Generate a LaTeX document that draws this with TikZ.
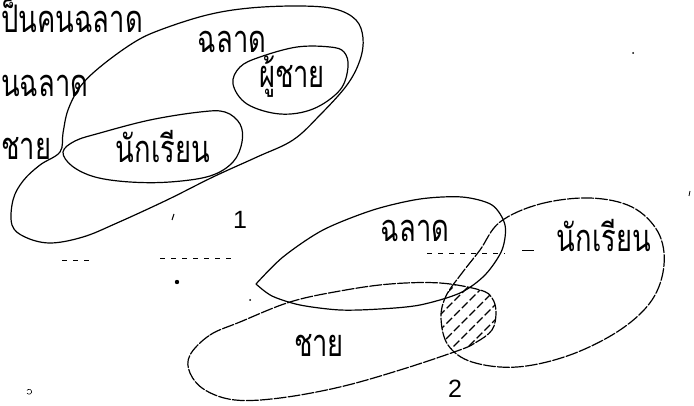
\documentclass[tikz,border=0pt]{standalone}
\usepackage{fontspec}
\setmainfont{Liberation Sans}
\newfontfamily\thai[Script=Thai,FakeStretch=0.72]{Loma}
\begin{document}
\begin{tikzpicture}[x=1pt,y=-1pt,
  thlabel/.style={font=\thai\fontsize{38}{38}\selectfont, inner sep=0pt, anchor=base},
  numlabel/.style={font=\fontsize{25}{25}\selectfont, inner sep=0pt, anchor=base},
  curve/.style={line width=1.2pt, line join=round, line cap=round},
  faint/.style={curve, dash pattern=on 12pt off 2pt},
  hatch/.style={line width=1.4pt, dash pattern=on 8pt off 3pt},
  speck/.style={fill=black, draw=none},
  rule/.style={line width=0.8pt, dash pattern=on 5pt off 6pt}]
\useasboundingbox (0,0) rectangle (694,406);

% ---- left texts
\node[thlabel, anchor=base west] (t1) at (1,33) {ป็นคนฉลาด};
\node[thlabel, anchor=base west] (t2) at (1,97) {นฉลาด};
\node[thlabel, anchor=base west] (t3) at (1,160) {ชาย};

% ---- figure 1
\draw[curve] plot[smooth cycle, tension=0.6] coordinates {
  (213,177) (257,157) (293,140) (320,115) (347,85) (360,60) (363,38) (356,20)
  (335,9) (300,6) (250,8) (207,15) (160,30) (133,43) (100,67) (80,87) (68,110)
  (63,133) (60,152) (40,165) (23,181) (13,200) (12,225) (25,237) (50,243)
  (83,237) (117,223) (167,200)};
\draw[curve] plot[smooth cycle, tension=0.6] coordinates {
  (260,57) (297,47) (330,47) (344,52) (348,67) (340,90) (313,109) (280,114)
  (247,104) (233,84) (240,67)};
\draw[curve] plot[smooth cycle, tension=0.6] coordinates {
  (63,152) (75,141) (100,133) (150,120) (200,112) (225,112) (240,124) (242,142)
  (233,162) (210,176) (170,182) (130,182) (95,177) (72,166)};
\node[thlabel] (f1smart) at (232,53) {ฉลาด};
\node[thlabel] (f1man) at (292,88) {ผู้ชาย};
\node[thlabel] (f1stu) at (163,163) {นักเรียน};
\node[numlabel] (n1) at (240,229) {1};

% ---- figure 2
\draw[curve] plot[smooth, tension=0.5] coordinates {
  (256,284) (283,257) (323,230) (373,210) (420,199) (462,197) (492,205)
  (505,225) (502,250) (485,275) (460,293) (420,305) (380,309) (340,310)
  (300,305) (272,296) (256,284)};
\draw[faint] plot[smooth cycle, tension=0.6] coordinates {
  (190,355) (210,335) (240,322) (290,302) (340,291) (390,284) (440,283)
  (480,290) (492,298) (496,312) (492,330) (475,343) (457,351) (400,370)
  (340,387) (280,398) (235,400) (205,390) (190,373)};
\draw[faint] plot[smooth cycle, tension=0.6] coordinates {
  (500,222) (540,204) (590,198) (632,207) (658,232) (664,265) (652,300)
  (620,330) (570,355) (517,367) (472,362) (448,345) (441,318) (446,296)
  (462,273) (480,250)};
\begin{scope}
  \clip plot[smooth cycle, tension=0.6] coordinates {
    (190,355) (210,335) (240,322) (290,302) (340,291) (390,284) (440,283)
    (480,290) (492,298) (496,312) (492,330) (475,343) (457,351) (400,370)
    (340,387) (280,398) (235,400) (205,390) (190,373)};
  \clip plot[smooth cycle, tension=0.6] coordinates {
    (500,222) (540,204) (590,198) (632,207) (658,232) (664,265) (652,300)
    (620,330) (570,355) (517,367) (472,362) (448,345) (441,318) (446,296)
    (462,273) (480,250)};
  \foreach \k in {-5,...,5}
    \draw[hatch] (415+7.5*\k,370+7.5*\k) -- (515+7.5*\k,270+7.5*\k);
\end{scope}
\node[thlabel] (f2smart) at (415,242) {ฉลาด};
\node[thlabel] (f2stu) at (604,252) {นักเรียน};
\node[thlabel] (f2man) at (319,356) {ชาย};
\node[numlabel] (n2) at (455,397) {2};

% ---- scan marks
\draw[rule] (62,260) -- (92,260);
\draw[rule] (160,258) -- (236,258);
\draw[rule] (427,253) -- (505,253);
\draw[line width=1pt] (522,251) -- (534,251);
\fill[speck] (177,282) circle (2.2);
\fill[speck] (633,53) circle (1);
\fill[speck] (250,300) circle (1);
\draw[line width=1pt] (174,214) -- (172,220);
\draw[line width=0.8pt] (690,191) -- (689,196);
\draw[line width=0.6pt] (27,393) arc (150:-150:2.5);
\end{tikzpicture}
\end{document}
